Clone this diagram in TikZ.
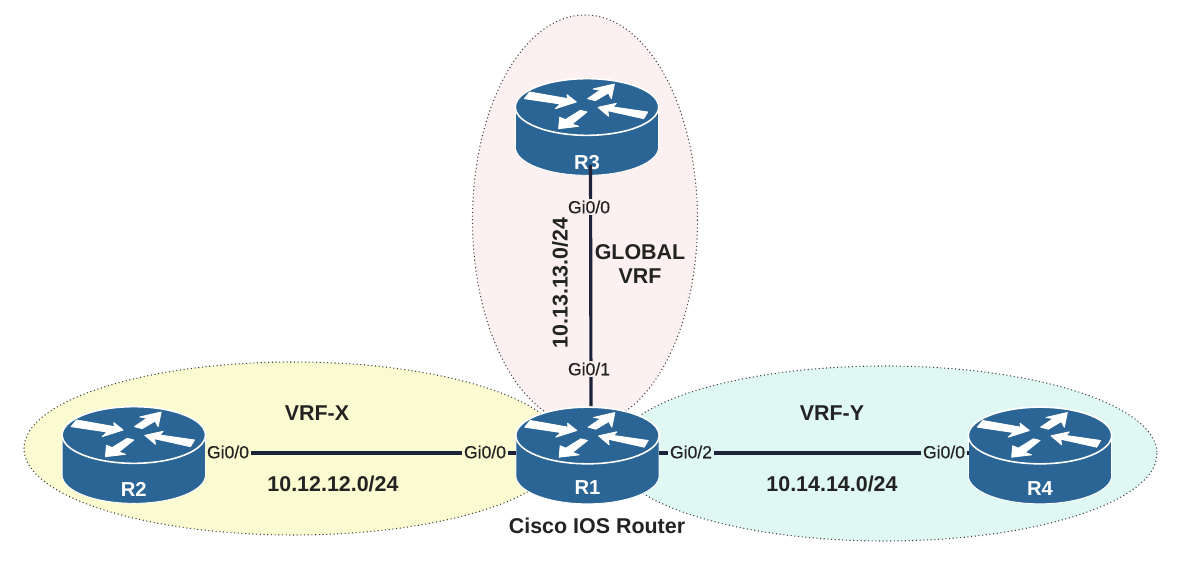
\documentclass[tikz,border=0pt]{standalone}
\usepackage{fontspec}
\setmainfont{Liberation Sans}
\newfontfamily\portfont[FakeBold=0.5]{Liberation Sans}
\definecolor{rblue}{RGB}{43,101,150}
\definecolor{lnk}{RGB}{30,35,60}
\definecolor{txt}{RGB}{35,35,35}
\definecolor{cg}{RGB}{252,240,240}
\definecolor{cx}{RGB}{251,251,210}
\definecolor{cy}{RGB}{223,248,244}
\tikzset{
  x=0.02cm,y=-0.02cm,
  zone/.style={draw=black!75,dash pattern=on 0.6pt off 1.5pt,line width=0.6pt},
  anchorbox/.style={minimum width=2.86cm,minimum height=1.94cm,inner sep=0pt,outer sep=0pt},
  link/.style={draw=lnk,line width=1.8pt},
  port/.style={font=\portfont\fontsize{10}{11}\selectfont,text=txt,inner sep=1pt},
  net/.style={font=\bfseries\fontsize{12.2}{14}\selectfont,text=txt,inner sep=0pt},
  rname/.style={font=\bfseries\fontsize{11.5}{12}\selectfont,text=white,inner sep=0pt},
  flow/.style={fill=white,draw=white,line width=0.5pt,line join=round},
  pics/router/.style={code={
    \begin{scope}[x=0.00667cm,y=-0.00667cm]
      \path[fill=rblue,draw=white,line width=0.5pt] (-215,0) -- (-215,120) arc[x radius=215,y radius=85,start angle=180,end angle=0] -- (215,0) -- cycle;
      \path[fill=rblue,draw=white,line width=0.9pt] (0,0) ellipse[x radius=215,y radius=85];
      \path[flow] (-172,-45) -- (-58,-25) -- (-60,-37) -- (-32,-15) -- (-95,5) -- (-80,-9) -- (-188,-25) -- cycle;
      \path[flow] (2,-25) -- (40,-51) -- (18,-54) -- (82,-69) -- (73,-25) -- (64,-42) -- (25,-19) -- cycle;
      \path[flow] (33,1) -- (88,-11) -- (78,0) -- (182,15) -- (170,35) -- (62,11) -- (65,28) -- cycle;
      \path[flow] (-85,65) -- (-82,31) -- (-65,38) -- (-20,10) -- (0,15) -- (-45,51) -- (-25,58) -- cycle;
    \end{scope}
  }}
}
\begin{document}
\begin{tikzpicture}
\useasboundingbox (0,0) rectangle (1188,580);
\fill[white] (0,0) rectangle (1188,580);
\path[zone,fill=cg] (585,220) ellipse[x radius=112.5,y radius=205];
\path[zone,fill=cx] (294,448.5) ellipse[x radius=270,y radius=86.5];
\path[zone,fill=cy] (885,453.5) ellipse[x radius=272,y radius=87.5];
\pic at (587.5,435.5) {router};
\pic at (587,107) {router};
\pic at (133.8,435) {router};
\pic at (1040,435.5) {router};
\node[anchorbox] (r1) at (587.5,454.5) {};
\node[anchorbox] (r3) at (587,125.5) {};
\node[anchorbox] (r2) at (133.8,454) {};
\node[anchorbox] (r4) at (1040,454.5) {};
\node[rname] (n1) at (587.5,488) {R1};
\node[rname] (n2) at (133.8,489) {R2};
\node[rname] (n3) at (587,163) {R3};
\node[rname] (n4) at (1040,489) {R4};
\draw[link] ([xshift=2pt,yshift=5pt]r3.south) -- ([xshift=2pt]r1.north);
\draw[link] (r2.east |- 0,453) -- (r1.west |- 0,453);
\draw[link] (r1.east |- 0,453) -- (r4.west |- 0,453);
\node[port,fill=cg] (a) at (589,207) {Gi0/0};
\node[port,fill=cg] (b) at (589,369) {Gi0/1};
\node[port,fill=cx] (c) at (228,452) {Gi0/0};
\node[port,fill=cx] (d) at (485,452) {Gi0/0};
\node[port,fill=cy] (e) at (691,452) {Gi0/2};
\node[port,fill=cy] (f) at (944,452) {Gi0/0};
\node[net,align=center] (g) at (640,264) {GLOBAL\\VRF};
\node[net,rotate=90] (h) at (560,283) {10.13.13.0/24};
\node[net] (i) at (317,413) {VRF-X};
\node[net] (j) at (832,413) {VRF-Y};
\node[net] (k) at (333,484) {10.12.12.0/24};
\node[net] (l) at (832,484) {10.14.14.0/24};
\node[net] (m) at (597,526) {Cisco IOS Router};
\end{tikzpicture}
\end{document}
